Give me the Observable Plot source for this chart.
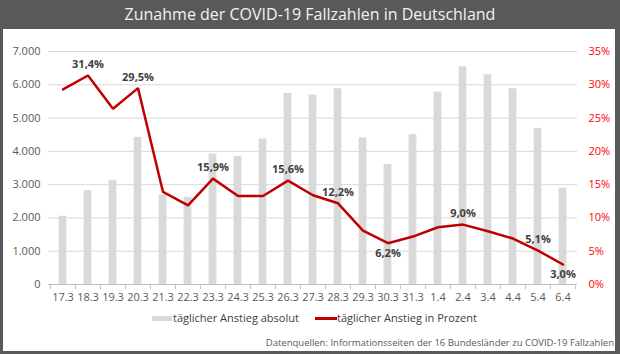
<!DOCTYPE html>
<html>
<head>
<meta charset="utf-8">
<script src="https://cdn.jsdelivr.net/npm/d3@7"></script>
<script src="https://cdn.jsdelivr.net/npm/@observablehq/plot@0.6"></script>
<style>
  html, body { margin: 0; padding: 0; }
  body { width: 620px; height: 354px; background: #595959; position: relative; overflow: hidden; font-family: "Open Sans", sans-serif; }
  #title { position: absolute; left: 0; top: 0; width: 620px; height: 29px; line-height: 29px; text-align: center; color: #f2f2f2; font-size: 16px; }
  #panel { position: absolute; left: 3px; top: 29px; width: 612px; height: 322px; background: #ffffff; }
  #chart { position: absolute; left: 0; top: 0; }
  .leg { position: absolute; font-size: 11px; color: #404040; white-space: nowrap; line-height: 14px; }
  #caption { position: absolute; right: 1px; top: 307px; font-size: 9.5px; color: #595959; white-space: nowrap; line-height: 13px; }
</style>
</head>
<body>
<div id="title">Zunahme der COVID-19 Fallzahlen in Deutschland</div>
<div id="panel">
  <div id="chart"></div>
  <div class="leg" style="left:149px; top:287px; width:20px; height:5px; background:#d9d9d9;"></div>
  <div class="leg" style="left:170px; top:282px;">täglicher Anstieg absolut</div>
  <div class="leg" style="left:312px; top:288px; width:22px; height:3px; background:#c00000;"></div>
  <div class="leg" style="left:334px; top:282px;">täglicher Anstieg in Prozent</div>
  <div id="caption">Datenquellen: Informationsseiten der 16 Bundesländer zu COVID-19 Fallzahlen</div>
</div>
<script>
// Data
const dates = ["17.3","18.3","19.3","20.3","21.3","22.3","23.3","24.3","25.3","26.3","27.3","28.3","29.3","30.3","31.3","1.4","2.4","3.4","4.4","5.4","6.4"];
const absolut = [2050, 2820, 3130, 4420, 2690, 2620, 3920, 3840, 4370, 5740, 5690, 5880, 4400, 3610, 4500, 5780, 6540, 6300, 5880, 4690, 2890];
const prozent = [29.3, 31.4, 26.4, 29.5, 13.9, 11.9, 15.9, 13.3, 13.3, 15.6, 13.4, 12.2, 8.1, 6.2, 7.2, 8.6, 9.0, 8.0, 6.9, 5.1, 3.0];
const labelsAbove = ["18.3","20.3","23.3","26.3","28.3","2.4","5.4"];
const labelsBelow = ["30.3","6.4"];
const leftTicks = [0, 1000, 2000, 3000, 4000, 5000, 6000, 7000];
const rightTicks = [0, 5, 10, 15, 20, 25, 30, 35];

const absMax = 7000, pctMax = 35;
const k = absMax / pctMax; // maps percent onto the shared y scale

const rows = dates.map((d, i) => ({date: d, abs: absolut[i], pct: prozent[i]}));
const deFmt = d3.formatLocale({decimal: ",", thousands: ".", grouping: [3], currency: ["", "€"]}).format(",d");
const pctLabel = v => d3.format(".1f")(v).replace(".", ",") + "%";

const W = 612, H = 282, ml = 45, mr = 38, mt = 22, mb = 27;
const step = (W - ml - mr) / dates.length;
const barW = 8;
const inset = (step - barW) / 2;

const chart = Plot.plot({
  width: W, height: H,
  marginLeft: ml, marginRight: mr, marginTop: mt, marginBottom: mb,
  style: {fontFamily: "Open Sans, sans-serif", fontSize: "11px", background: "transparent", overflow: "visible"},
  x: {type: "band", domain: dates, padding: 0, axis: null},
  y: {domain: [0, absMax], axis: null},
  marks: [
    Plot.ruleY(leftTicks.slice(1), {stroke: "#d9d9d9", strokeWidth: 1}),
    Plot.barY(rows, {x: "date", y: "abs", fill: "#d9d9d9", insetLeft: inset, insetRight: inset}),
    Plot.ruleY([0], {stroke: "#bfbfbf", strokeWidth: 1}),
    // tick marks at category boundaries
    Plot.axisX({tickSize: 5, text: null, label: null, stroke: "#bfbfbf", dx: -step / 2}),
    Plot.axisX({ticks: [dates[dates.length - 1]], tickSize: 5, text: null, label: null, stroke: "#bfbfbf", dx: step / 2}),
    Plot.axisX({tickSize: 0, tickPadding: 9, fill: "#595959", fontSize: 11, label: null}),
    Plot.axisY({anchor: "left", ticks: leftTicks, tickFormat: deFmt, tickSize: 0, tickPadding: 8, fill: "#595959", fontSize: 11, label: null}),
    Plot.axisY({anchor: "right", ticks: rightTicks.map(v => v * k), tickFormat: v => (v / k) + "%", tickSize: 0, tickPadding: 11, fill: "#ff0000", fontSize: 11, label: null}),
    Plot.line(rows, {x: "date", y: d => d.pct * k, stroke: "#c00000", strokeWidth: 2.5, strokeLinejoin: "miter"}),
    Plot.text(rows.filter(d => labelsAbove.includes(d.date)), {x: "date", y: d => d.pct * k, text: d => pctLabel(d.pct), dy: -11, fill: "#404040", fontWeight: "bold", fontSize: 11}),
    Plot.text(rows.filter(d => labelsBelow.includes(d.date)), {x: "date", y: d => d.pct * k, text: d => pctLabel(d.pct), dy: 10, fill: "#404040", fontWeight: "bold", fontSize: 11})
  ]
});
document.getElementById("chart").appendChild(chart);
</script>
</body>
</html>
